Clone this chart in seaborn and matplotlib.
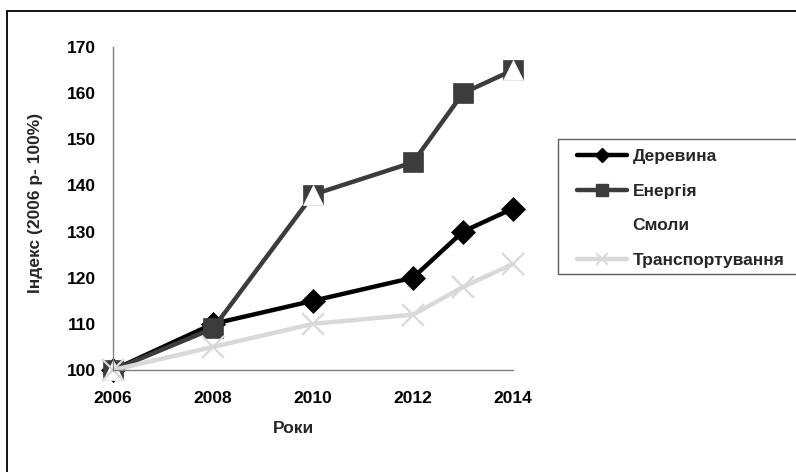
import matplotlib
matplotlib.use("Agg")
import matplotlib.pyplot as plt
import seaborn as sns
import numpy as np
from matplotlib.lines import Line2D
from matplotlib.patches import Rectangle

years = [2006, 2008, 2010, 2012, 2013, 2014]
derevyna = [100, 110, 115, 120, 130, 135]
enerhiia = [100, 109, 138, 145, 160, 165]
smoly = [100, np.nan, 138, np.nan, np.nan, 165]
transport = [100, 105, 110, 112, 118, 123]
series_names = ["Деревина", "Енергія", "Смоли", "Транспортування"]
xticks = [2006, 2008, 2010, 2012, 2014]
yticks = [100, 110, 120, 130, 140, 150, 160, 170]

sns.set_style("white")
plt.rcParams["font.family"] = ["Liberation Sans", "DejaVu Sans"]
plt.rcParams["font.weight"] = "bold"

FS = 12.5
W, H = 796, 472
fig = plt.figure(figsize=(W / 100, H / 100), dpi=100)
ax = fig.add_axes([113 / W, 1 - 370 / H, 400 / W, 323 / H])

c_wood, c_energy, c_trans = "#000000", "#3c3c3c", "#d9d9d9"
LW = 3.2

sns.lineplot(x=years, y=derevyna, ax=ax, color=c_wood, linewidth=LW,
             marker="D", markersize=12.5, markeredgecolor=c_wood,
             markerfacecolor=c_wood, markeredgewidth=0.5, clip_on=False)
sns.lineplot(x=years, y=enerhiia, ax=ax, color=c_energy, linewidth=LW,
             marker="s", markersize=14, markeredgecolor=c_energy,
             markerfacecolor=c_energy, markeredgewidth=0.5, clip_on=False)
sns.lineplot(x=years, y=smoly, ax=ax, color="white", linestyle="none",
             marker="^", markersize=15, markeredgecolor="white",
             markerfacecolor="white", markeredgewidth=0.5, clip_on=False)
sns.lineplot(x=years, y=transport, ax=ax, color=c_trans, linewidth=LW,
             marker="x", markersize=15.5, markeredgecolor=c_trans,
             markeredgewidth=1.6, clip_on=False)

ax.set_xlim(2006, 2014)
ax.set_ylim(100, 170)
ax.set_xticks(xticks)
ax.set_yticks(yticks)
ax.set_xticklabels([str(t) for t in xticks], fontsize=FS, fontweight="bold")
ax.set_yticklabels([str(t) for t in yticks], fontsize=FS, fontweight="bold")

for s in ["top", "right"]:
    ax.spines[s].set_visible(False)
for s in ["left", "bottom"]:
    ax.spines[s].set_color("#808080")
    ax.spines[s].set_linewidth(1.0)
ax.tick_params(axis="both", which="major", direction="out", length=4.5,
               width=1.0, color="#808080", labelcolor="black")
ax.tick_params(axis="x", pad=10.5)
ax.tick_params(axis="y", pad=8)

ax.set_xlabel("Роки", fontsize=FS, fontweight="bold")
ax.set_ylabel("Індекс (2006 р- 100%)", fontsize=FS, fontweight="bold")
ax.xaxis.set_label_coords(0.45, -0.157)
ax.yaxis.set_label_coords(-0.175, 0.517)

handles = [
    Line2D([], [], color=c_wood, linewidth=LW, marker="D", markersize=7,
           markerfacecolor=c_wood, markeredgecolor=c_wood),
    Line2D([], [], color=c_energy, linewidth=LW, marker="s", markersize=8,
           markerfacecolor=c_energy, markeredgecolor=c_energy),
    Line2D([], [], color="white", linestyle="none", marker="^", markersize=7,
           markerfacecolor="white", markeredgecolor="white"),
    Line2D([], [], color=c_trans, linewidth=LW, marker="x", markersize=8,
           markeredgecolor=c_trans, markeredgewidth=1.3),
]

# legend frame (extends past the right edge as in the reference)
fig.patches.append(Rectangle((558 / W, 1 - 274 / H), 300 / W, 135 / H,
                             transform=fig.transFigure, fill=True,
                             facecolor="white", edgecolor="#606060",
                             linewidth=1.0, clip_on=False, zorder=1))

leg = fig.legend(handles, series_names, loc="upper left",
                 bbox_to_anchor=(577 / W, 1 - 149 / H),
                 frameon=False, prop={"size": FS, "weight": "bold"},
                 handlelength=2.9, handletextpad=0.3, labelspacing=1.12,
                 borderpad=0, borderaxespad=0)
leg.set_zorder(5)

fig.patches.append(Rectangle((7 / W, -0.1), 1.2, 1 - 11 / H + 0.1,
                             transform=fig.transFigure, fill=False,
                             edgecolor="black", linewidth=1.3, clip_on=False))

fig.savefig("out.png", dpi=100)
